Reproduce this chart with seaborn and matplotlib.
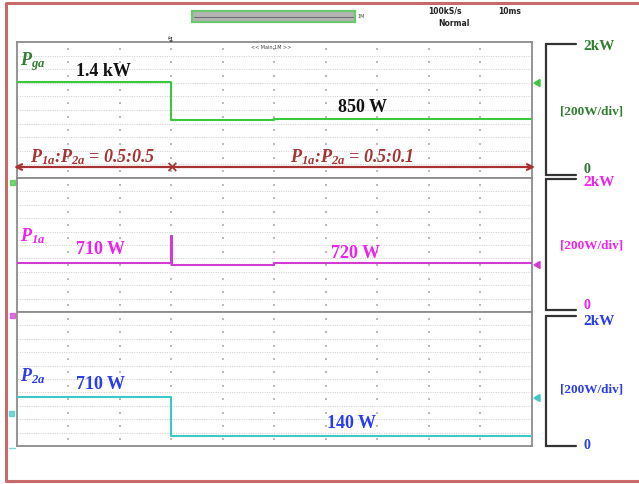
import numpy as np
import pandas as pd
import matplotlib
matplotlib.use("Agg")
import matplotlib.pyplot as plt
from matplotlib.patches import Rectangle, Polygon
import seaborn as sns

# Time axis in screen divisions (10 div across), power in W
t_ga = [0, 3, 5, 10]
p_ga = [1400, 835, 850, 850]

t_1a = [0, 3, 3.015, 5, 10]
p_1a = [710, 1120, 690, 720, 720]

t_2a = [0, 3, 5, 10]
p_2a = [710, 130, 140, 140]

channel_names = [r"$P_{ga}$", r"$P_{1a}$", r"$P_{2a}$"]
start_labels = ["1.4 kW", "710 W", "710 W"]
end_labels = ["850 W", "720 W", "140 W"]
scale_top = "2kW"
scale_div = "[200W/div]"
scale_zero = "0"
ratio_before = r"$P_{1a}$:$P_{2a}$ = 0.5:0.5"
ratio_after = r"$P_{1a}$:$P_{2a}$ = 0.5:0.1"

trace_colors = ["#3cc83c", "#d23cd2", "#3cc8c8"]
text_colors = ["#2f7f2f", "#ee22ee", "#2a3cf0"]
value_colors = ["#111111", "#ee22ee", "#2a3cf0"]
red = "#a83232"

sns.set_theme(style="white")
plt.rcParams["font.family"] = ["Liberation Serif", "DejaVu Serif"]
plt.rcParams["mathtext.fontset"] = "custom"
plt.rcParams["mathtext.rm"] = "Liberation Serif:italic:bold"
plt.rcParams["mathtext.it"] = "Liberation Serif:italic:bold"

W, H = 639, 485
fig = plt.figure(figsize=(W / 100, H / 100), dpi=100)
fig.patch.set_facecolor("white")

# scope screen geometry in pixels
x_left, x_right = 16.7, 532.0
panel_edges = [(43, 179), (179, 313), (313, 447)]
y0 = -15  # lower limit of each channel (W)

frames = [
    pd.DataFrame({"t": t_ga, "p": p_ga}),
    pd.DataFrame({"t": t_1a, "p": p_1a}),
    pd.DataFrame({"t": t_2a, "p": p_2a}),
]

for i, (top, bot) in enumerate(panel_edges):
    ax = fig.add_axes([x_left / W, (H - bot) / H, (x_right - x_left) / W, (bot - top) / H])
    ax.set_facecolor("white")
    ax.set_xlim(0, 10)
    ax.set_ylim(y0, y0 + 2000)
    # dotted division grid
    for k in range(1, 10):
        ax.axhline(y0 + 200 * k, color="#cccccc", lw=0.7, ls=(0, (1, 1.4)), zorder=1)
    xs, ys = np.meshgrid(np.arange(1, 10), y0 + 100 + 200 * np.arange(10))
    ax.scatter(xs.ravel(), ys.ravel(), s=1.2, color="#bcbcbc", marker="s", lw=0, zorder=1)
    sns.lineplot(data=frames[i], x="t", y="p", drawstyle="steps-post",
                 color=trace_colors[i], lw=1.5, ax=ax, zorder=3)
    ax.set_xticks([])
    ax.set_yticks([])
    ax.set_xlabel("")
    ax.set_ylabel("")
    for s in ax.spines.values():
        s.set_color("#8c8c8c")
        s.set_linewidth(1.3)

# annotation layer in pixel coordinates
ov = fig.add_axes([0, 0, 1, 1], zorder=10)
ov.set_xlim(0, W)
ov.set_ylim(H, 0)
ov.axis("off")
ov.patch.set_alpha(0)

# outer frame
ov.plot([639, 6, 6, 639], [4, 4, 482, 482], color="#c86a6a", lw=2.2, solid_capstyle="butt")

# status bar
ov.add_patch(Rectangle((192, 12), 163, 11, facecolor="#b4b4b4", edgecolor="#6cc86c", lw=1.6))
ov.plot([194, 353], [17.5, 17.5], color="#707070", lw=0.8)
ov.text(357, 16, "1M", fontsize=3.5, family="DejaVu Sans", color="#444444", va="center")
ov.text(428, 11, "100kS/s", fontsize=5.5, family="DejaVu Sans", color="#222222", va="center", weight="bold")
ov.text(498, 11, "10ms", fontsize=5.5, family="DejaVu Sans", color="#222222", va="center", weight="bold")
ov.text(438, 24, "Normal", fontsize=5.5, family="DejaVu Sans", color="#222222", va="center", weight="bold")
ov.text(170, 39, "\u21af", fontsize=6, family="DejaVu Sans", color="#222222", ha="center", va="center")
ov.text(271, 47.5, "<< Main:1M >>", fontsize=3.5, family="DejaVu Sans", color="#444444", ha="center", va="center")

# channel names and levels
name_y = [62, 236, 376]
start_y = [72, 250, 385]
end_pos = [(338, 108), (331, 254), (327, 424)]
for i in range(3):
    ov.text(20, name_y[i], channel_names[i], color=text_colors[i], fontsize=13, va="center")
    ov.text(76, start_y[i], start_labels[i], color=value_colors[i], fontsize=13,
            weight="bold", va="center")
    ov.text(end_pos[i][0], end_pos[i][1], end_labels[i], color=value_colors[i], fontsize=13,
            weight="bold", va="center")

# power-sharing ratio arrow
ov.annotate("", xy=(14, 168), xytext=(535, 168),
            arrowprops=dict(arrowstyle="<->", color=red, lw=1.6, mutation_scale=10, shrinkA=0, shrinkB=0))
ov.text(171, 168, "\u00d7", color=red, fontsize=11, ha="center", va="center", family="DejaVu Sans", weight="bold")
ov.text(30, 157, ratio_before, color=red, fontsize=13, style="italic", weight="bold", va="center")
ov.text(290, 157, ratio_after, color=red, fontsize=13, style="italic", weight="bold", va="center")

# scale brackets on the right
brackets = [(45, 176), (180, 311), (317, 447)]
div_y = [112, 246, 390]
top_y = [46, 183, 322]
zero_y = [170, 306, 446]
zero_colors = ["#2f6f2f", "#ee22ee", "#2a3cf0"]
for i, (bt, bb) in enumerate(brackets):
    ov.plot([576, 546, 546, 576], [bt, bt, bb, bb], color="#333333", lw=1.6, solid_joinstyle="miter")
    ov.text(583, top_y[i], scale_top, color=text_colors[i], fontsize=11, weight="bold", va="center")
    ov.text(592, div_y[i], scale_div, color=text_colors[i], fontsize=9.5, weight="bold",
            ha="center", va="center")
    ov.text(583, zero_y[i], scale_zero, color=zero_colors[i], fontsize=10, weight="bold", va="center")

# channel markers on the screen edges
marker_y = [84, 266, 399]
for i in range(3):
    ov.add_patch(Polygon([[534, marker_y[i]], [540, marker_y[i] - 3.5], [540, marker_y[i] + 3.5]],
                         closed=True, color=trace_colors[i]))
left_marks = [(12, 183, trace_colors[0]), (12, 316, trace_colors[1]), (11, 414, trace_colors[2])]
for x, y, c in left_marks:
    ov.add_patch(Rectangle((x - 2.5, y - 2.5), 5, 5, color=c, alpha=0.7))
ov.plot([9, 15], [449, 449], color=trace_colors[2], lw=1, alpha=0.7)

fig.savefig("out.png", dpi=100)
